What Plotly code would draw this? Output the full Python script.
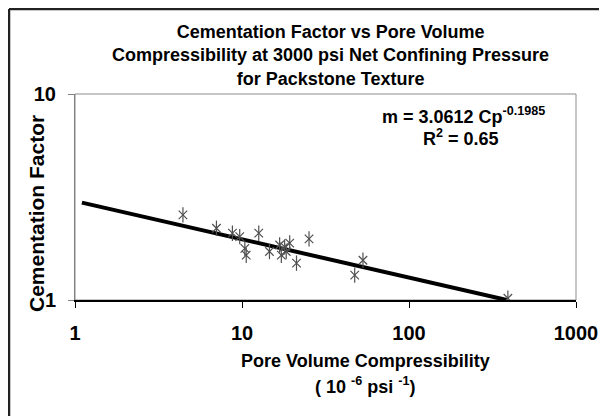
import plotly.graph_objects as go

# Data
cp = [4.43, 7.03, 8.76, 9.69, 10.4, 10.6, 12.6, 14.6, 16.8, 18.0, 18.4, 17.2,
      19.3, 21.2, 25.2, 47.3, 53.0, 391]
m_vals = [2.59, 2.23, 2.11, 2.03, 1.78, 1.65, 2.11, 1.72, 1.85, 1.81, 1.72, 1.65,
          1.89, 1.51, 1.98, 1.32, 1.56, 1.02]
trend_cp = [1.1, 385]
trend_m = [2.97, 1.0]
x_ticks = [1, 10, 100, 1000]
y_ticks = [1, 10]

title_text = ("Cementation Factor vs Pore Volume<br>"
              "Compressibility at 3000 psi Net Confining Pressure<br>"
              "for Packstone Texture")
eq_text = "m = 3.0612 Cp<sup>-0.1985</sup>"
r2_text = "R<sup>2</sup> = 0.65"
xtitle1 = "Pore Volume Compressibility"
xtitle2 = "( 10 <sup>-6</sup> psi <sup>-1</sup>)"
ytitle = "Cementation Factor"

FONT = "Liberation Sans, Arial, sans-serif"

# page is offset by the 8px body margin; plot area sits at page x 75..576, y 94..300
OFF = 8
L, T = 75 - OFF, 94 - OFF
PW, PH = 501, 206


def px(xp):
    return (xp - 75) / PW


def py(yp):
    return (300 - yp) / PH


fig = go.Figure()
fig.add_trace(go.Scatter(x=trend_cp, y=trend_m, mode="lines",
                         line=dict(color="black", width=4), hoverinfo="skip"))
fig.add_trace(go.Scatter(x=cp, y=m_vals, mode="markers",
                         marker=dict(symbol="x-thin-open", size=8.5, color="#505050",
                                     line=dict(color="#505050", width=1.2))))
fig.add_trace(go.Scatter(x=cp, y=m_vals, mode="markers",
                         marker=dict(symbol="line-ns-open", size=11, color="#505050",
                                     line=dict(color="#505050", width=1.2))))

W, H = 607 - OFF, 416 - OFF
fig.update_layout(
    width=W, height=H,
    margin=dict(l=L, r=W - L - PW, t=T, b=H - T - PH, autoexpand=False),
    paper_bgcolor="white", plot_bgcolor="white",
    showlegend=False,
    font=dict(family=FONT, color="black"),
)
fig.update_xaxes(type="log", range=[0, 3], tickvals=x_ticks,
                 ticktext=[str(v) for v in x_ticks],
                 showgrid=False, zeroline=False,
                 showline=True, linecolor="black", linewidth=1.5,
                 ticks="outside", ticklen=6, tickcolor="black", tickwidth=1,
                 tickfont=dict(size=20, family=FONT, weight="bold"),
                 ticklabelstandoff=8)
fig.update_yaxes(type="log", range=[0, 1], tickvals=y_ticks,
                 ticktext=[str(v) for v in y_ticks],
                 showgrid=False, zeroline=False,
                 showline=True, linecolor="#808080", linewidth=1,
                 ticks="outside", ticklen=6, tickcolor="#808080", tickwidth=1,
                 tickfont=dict(size=20, family=FONT, weight="bold"),
                 ticklabelstandoff=8)

# plot-area gray frame (top / right)
fig.add_shape(type="rect", xref="paper", yref="paper", x0=0, x1=1, y0=0, y1=1,
              line=dict(color="#8c8c8c", width=1), layer="below")
# outer chart border (left and top visible)
fig.add_shape(type="line", xref="paper", yref="paper",
              x0=px(9), x1=px(9), y0=py(9), y1=py(430),
              line=dict(color="#222222", width=2.5))
fig.add_shape(type="line", xref="paper", yref="paper",
              x0=px(9), x1=px(620), y0=py(9), y1=py(9),
              line=dict(color="#222222", width=2.5))

bold18 = dict(family=FONT, size=18, color="black", weight="bold")
fig.add_annotation(text=title_text, xref="paper", yref="paper",
                   x=px(330), y=py(55.5),
                   xanchor="center", yanchor="middle", showarrow=False,
                   font=bold18)
fig.add_annotation(text=eq_text, xref="paper", yref="paper",
                   x=px(463.5), y=py(116),
                   xanchor="center", yanchor="middle", showarrow=False,
                   font=bold18)
fig.add_annotation(text=r2_text, xref="paper", yref="paper",
                   x=px(461), y=py(137),
                   xanchor="center", yanchor="middle", showarrow=False,
                   font=bold18)
fig.add_annotation(text=xtitle1, xref="paper", yref="paper",
                   x=px(365), y=py(361),
                   xanchor="center", yanchor="middle", showarrow=False,
                   font=bold18)
fig.add_annotation(text=xtitle2, xref="paper", yref="paper",
                   x=px(365), y=py(385),
                   xanchor="center", yanchor="middle", showarrow=False,
                   font=bold18)
fig.add_annotation(text=ytitle, xref="paper", yref="paper",
                   x=px(36), y=py(214),
                   xanchor="center", yanchor="middle", showarrow=False,
                   textangle=-90,
                   font=dict(family=FONT, size=21, color="black", weight="bold"))

fig.write_html("out.html")
